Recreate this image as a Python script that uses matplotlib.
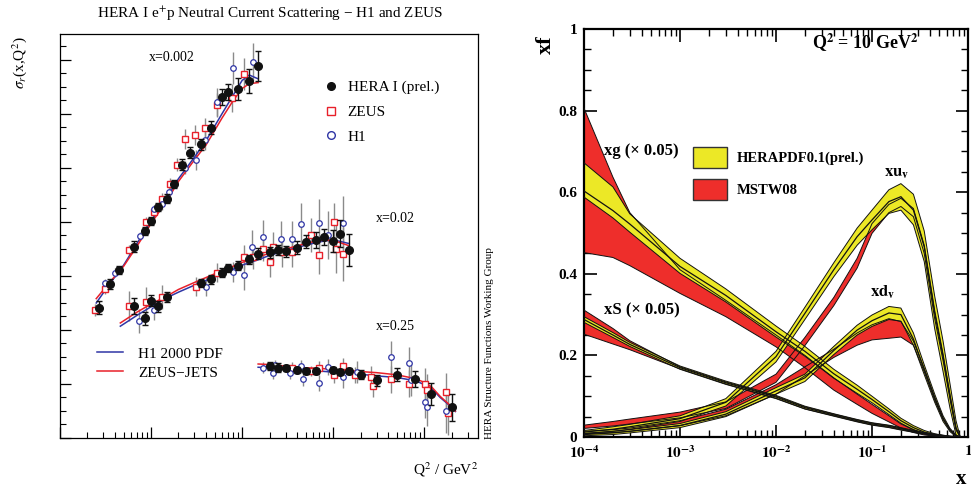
import matplotlib
matplotlib.use('Agg')
import matplotlib.pyplot as plt
from matplotlib.lines import Line2D
from matplotlib.patches import Patch
from matplotlib.ticker import MultipleLocator, LogLocator, NullFormatter, FixedLocator, FixedFormatter

plt.rcParams['font.family'] = ['Liberation Serif', 'DejaVu Serif']
plt.rcParams['mathtext.fontset'] = 'stix'

# ---------------- left panel: reduced cross sections (offset, arb. units) ----------------
# x = 0.002
hera_q2_a = [2.7, 3.5, 4.5, 6.5, 8.5, 10, 12, 15, 18, 22, 27, 35, 45, 60, 70, 90, 120, 150]
hera_y_a = [2.41, 2.85, 3.11, 3.54, 3.83, 4.02, 4.28, 4.43, 4.70, 5.06, 5.28, 5.44, 5.74, 6.31, 6.41, 6.46, 6.61, 6.89]
hera_e_a = [0.12, 0.1, 0.08, 0.1, 0.08, 0.08, 0.08, 0.08, 0.08, 0.1, 0.1, 0.1, 0.12, 0.15, 0.15, 0.2, 0.22, 0.28]
zeus_q2_a = [2.4, 3.1, 5.7, 8.8, 10.8, 13.2, 16.2, 19.3, 23.7, 30.5, 39, 53, 78, 105]
zeus_y_a = [2.37, 2.76, 3.48, 4.0, 4.19, 4.43, 4.70, 5.06, 5.54, 5.61, 5.74, 6.17, 6.30, 6.74]
zeus_e_a = [0.12, 0.1, 0.1, 0.1, 0.1, 0.1, 0.12, 0.12, 0.18, 0.18, 0.18, 0.22, 0.26, 0.3]
h1_q2_a = [3.1, 4.0, 7.6, 10.8, 13.2, 15.8, 23.7, 31, 39, 53, 80, 132]
h1_y_a = [2.87, 3.06, 3.74, 4.24, 4.33, 4.56, 5.0, 5.15, 5.52, 6.22, 6.85, 6.96]
h1_e_a = [0.08, 0.08, 0.08, 0.08, 0.1, 0.1, 0.12, 0.18, 0.18, 0.26, 0.3, 0.35]
fit_q2_a = [2.5, 3.5, 5, 7, 10, 15, 20, 30, 40, 60, 80, 100, 120, 150]
h1fit_a = [2.5, 2.85, 3.2, 3.6, 4.02, 4.45, 4.8, 5.2, 5.5, 6.0, 6.35, 6.62, 6.72, 6.65]
zjfit_a = [2.58, 2.88, 3.18, 3.55, 3.97, 4.4, 4.75, 5.15, 5.42, 5.92, 6.25, 6.47, 6.56, 6.58]

# x = 0.02
hera_q2_b = [6.5, 8.5, 10, 12, 15, 35, 45, 60, 70, 90, 120, 150, 200, 250, 300, 400, 500, 650, 800, 1000, 1200, 1500]
hera_y_b = [2.44, 2.22, 2.54, 2.44, 2.61, 2.87, 2.94, 3.06, 3.15, 3.19, 3.31, 3.41, 3.44, 3.48, 3.46, 3.52, 3.63, 3.67, 3.72, 3.65, 3.78, 3.48]
hera_e_b = [0.15, 0.12, 0.1, 0.1, 0.1, 0.08, 0.08, 0.08, 0.08, 0.08, 0.08, 0.1, 0.1, 0.1, 0.1, 0.12, 0.12, 0.15, 0.15, 0.2, 0.25, 0.3]
zeus_q2_b = [5.7, 8.8, 13.2, 31, 53, 105, 132, 170, 203, 219, 275, 354, 573, 701, 1026, 1080, 1290]
zeus_y_b = [2.44, 2.52, 2.61, 2.80, 3.06, 3.35, 3.35, 3.5, 3.26, 3.54, 3.44, 3.44, 3.76, 3.39, 4.0, 3.5, 3.41]
zeus_e_b = [0.28, 0.28, 0.22, 0.18, 0.18, 0.22, 0.22, 0.22, 0.28, 0.28, 0.28, 0.28, 0.32, 0.36, 0.36, 0.45, 0.5]
h1_q2_b = [7.4, 10.8, 40, 80, 105, 129, 170, 268, 354, 445, 701, 881, 1290]
h1_y_b = [2.17, 2.37, 2.80, 3.07, 3.02, 3.54, 3.72, 3.69, 3.69, 3.96, 3.98, 3.76, 3.98]
h1_e_b = [0.22, 0.18, 0.18, 0.18, 0.28, 0.32, 0.32, 0.32, 0.32, 0.4, 0.45, 0.45, 0.5]
fit_q2_b = [4.6, 7, 10, 15, 20, 30, 50, 70, 100, 150, 200, 300, 500, 700, 1000, 1500]
h1fit_b = [2.07, 2.27, 2.43, 2.6, 2.7, 2.83, 2.98, 3.08, 3.2, 3.3, 3.38, 3.47, 3.57, 3.63, 3.67, 3.6]
zjfit_b = [2.13, 2.33, 2.48, 2.63, 2.75, 2.88, 3.04, 3.14, 3.25, 3.35, 3.42, 3.5, 3.6, 3.66, 3.66, 3.56]

# x = 0.25
hera_q2_c = [200, 250, 300, 400, 500, 650, 1000, 1200, 1500, 2000, 3000, 5000, 8000, 12000, 20000]
hera_y_c = [1.33, 1.30, 1.30, 1.26, 1.24, 1.24, 1.26, 1.22, 1.24, 1.17, 1.07, 1.17, 1.09, 0.81, 0.57]
hera_e_c = [0.08, 0.08, 0.06, 0.06, 0.06, 0.06, 0.06, 0.06, 0.06, 0.08, 0.1, 0.12, 0.15, 0.2, 0.25]
zeus_q2_c = [354, 573, 701, 1026, 1290, 1745, 2620, 2750, 4335, 6840, 10260, 10800, 17500, 18400]
zeus_y_c = [1.30, 1.24, 1.30, 1.17, 1.33, 1.17, 1.13, 0.96, 1.09, 1.0, 1.0, 0.89, 0.85, 0.46]
zeus_e_c = [0.1, 0.1, 0.12, 0.15, 0.15, 0.15, 0.2, 0.2, 0.25, 0.25, 0.3, 0.3, 0.35, 0.4]
h1_q2_c = [170, 219, 231, 337, 445, 468, 701, 881, 1290, 1840, 4335, 6840, 7190, 10260, 10800, 17500]
h1_y_c = [1.30, 1.20, 1.35, 1.20, 1.33, 1.09, 1.02, 1.31, 1.13, 1.22, 1.5, 1.39, 1.07, 0.67, 0.57, 0.50]
h1_e_c = [0.1, 0.1, 0.1, 0.1, 0.12, 0.12, 0.15, 0.15, 0.2, 0.2, 0.3, 0.3, 0.3, 0.3, 0.35, 0.4]
fit_q2_c = [150, 200, 300, 500, 700, 1000, 1500, 2000, 3000, 5000, 8000, 10000, 12000, 15000, 20000, 22000]
h1fit_c = [1.31, 1.3, 1.28, 1.26, 1.24, 1.22, 1.2, 1.18, 1.15, 1.12, 1.06, 0.99, 0.92, 0.75, 0.57, 0.49]
zjfit_c = [1.37, 1.36, 1.33, 1.3, 1.29, 1.27, 1.25, 1.23, 1.21, 1.17, 1.1, 1.03, 0.95, 0.77, 0.58, 0.5]

bin_labels = ['x=0.002', 'x=0.02', 'x=0.25']

# ---------------- right panel: PDFs at Q2 = 10 GeV2 ----------------
xgrid = [1e-4, 2e-4, 3e-4, 1e-3, 3e-3, 0.01, 0.02, 0.04, 0.07, 0.1, 0.15, 0.2, 0.27, 0.35, 0.45, 0.55, 0.65, 0.75, 0.83]

# xg (x 0.05)
hera_xg_hi = [.672, .613, .547, .438, .363, .272, .222, .166, .127, .100, .069, .046, .028, .016, .008, .004, .002, .001, 0]
hera_xg_mid = [.603, .555, .522, .418, .347, .258, .210, .155, .117, .092, .062, .040, .023, .012, .006, .003, .001, .0005, 0]
hera_xg_lo = [.588, .537, .502, .401, .331, .245, .198, .144, .107, .084, .055, .034, .018, .008, .004, .002, .0005, 0, 0]
mstw_xg_hi = [.806, .637, .550, .410, .335, .250, .200, .145, .105, .080, .052, .032, .018, .009, .004, .002, .001, 0, 0]
mstw_xg_lo = [.452, .440, .420, .352, .295, .221, .170, .115, .080, .058, .037, .022, .011, .005, .002, .001, 0, 0, 0]

# xS (x 0.05)
hera_xs_hi = [.295, .256, .232, .174, .137, .102, .0755, .057, .043, .035, .029, .023, .0165, .011, .007, .0045, .002, .001, 0]
hera_xs_mid = [.288, .250, .227, .170, .133, .098, .072, .054, .040, .032, .026, .020, .014, .009, .005, .003, .001, .0005, 0]
hera_xs_lo = [.281, .244, .222, .166, .129, .094, .0685, .051, .037, .029, .023, .017, .0115, .007, .003, .0015, 0, 0, 0]
mstw_xs_hi = [.311, .266, .236, .172, .135, .100, .074, .056, .042, .034, .028, .022, .015, .010, .006, .0035, .0015, .0005, 0]
mstw_xs_lo = [.252, .228, .214, .167, .130, .095, .069, .052, .038, .030, .024, .018, .012, .008, .004, .002, .0005, 0, 0]

# xu_v
hera_uv_hi = [.016, .025, .031, .052, .094, .210, .318, .427, .512, .556, .606, .621, .595, .505, .345, .235, .130, .040, 0]
hera_uv_mid = [.012, .019, .025, .045, .085, .197, .303, .410, .491, .532, .577, .589, .556, .466, .303, .197, .099, .021, 0]
hera_uv_lo = [.008, .014, .019, .038, .076, .184, .288, .393, .470, .508, .548, .556, .520, .430, .265, .160, .070, .005, 0]
mstw_uv_hi = [.029, .038, .044, .061, .086, .154, .244, .342, .438, .523, .570, .585, .560, .470, .310, .203, .104, .023, 0]
mstw_uv_lo = [.021, .027, .032, .047, .070, .134, .224, .322, .414, .499, .550, .565, .540, .450, .290, .187, .092, .017, 0]

# xd_v
hera_dv_hi = [.009, .014, .018, .033, .062, .121, .154, .222, .274, .299, .320, .316, .255, .177, .105, .052, .021, .005, 0]
hera_dv_mid = [.006, .010, .014, .028, .056, .113, .145, .212, .262, .285, .304, .300, .240, .165, .095, .045, .017, .003, 0]
hera_dv_lo = [.003, .006, .010, .023, .050, .105, .136, .202, .250, .271, .288, .284, .225, .153, .085, .038, .013, .001, 0]
mstw_dv_hi = [.014, .018, .022, .040, .068, .128, .172, .215, .255, .275, .290, .283, .235, .168, .098, .047, .018, .003, 0]
mstw_dv_lo = [.008, .011, .014, .028, .052, .105, .150, .195, .225, .238, .242, .245, .225, .160, .090, .043, .016, .003, 0]

yellow = '#ece826'
red = '#ee2e2b'

fig = plt.figure(figsize=(9.71, 4.88), dpi=100)

# ================= left panel =================
ax = fig.add_axes([60 / 971, 1 - 438 / 488, 418 / 971, 404 / 488])
ax.set_xscale('log')

zeus_c = '#e8202a'
h1_c = '#2f35a5'
bins = [
    (hera_q2_a, hera_y_a, hera_e_a, zeus_q2_a, zeus_y_a, zeus_e_a, h1_q2_a, h1_y_a, h1_e_a, fit_q2_a, h1fit_a, zjfit_a),
    (hera_q2_b, hera_y_b, hera_e_b, zeus_q2_b, zeus_y_b, zeus_e_b, h1_q2_b, h1_y_b, h1_e_b, fit_q2_b, h1fit_b, zjfit_b),
    (hera_q2_c, hera_y_c, hera_e_c, zeus_q2_c, zeus_y_c, zeus_e_c, h1_q2_c, h1_y_c, h1_e_c, fit_q2_c, h1fit_c, zjfit_c),
]
for (hq, hy, he, zq, zy, ze, bq, by, be, fq, fb, fz) in bins:
    ax.errorbar(zq, zy, yerr=ze, fmt='none', ecolor='#8a8a8a', elinewidth=1.0, zorder=2)
    ax.errorbar(bq, by, yerr=be, fmt='none', ecolor='#8a8a8a', elinewidth=1.0, zorder=2)
    ax.plot(fq, fb, color=h1_c, lw=1.1, zorder=3)
    ax.plot(fq, fz, color=zeus_c, lw=1.1, zorder=3)
    ax.plot(zq, zy, 's', mfc='white', mec=zeus_c, ms=4.2, mew=1.0, zorder=4)
    ax.plot(bq, by, 'o', mfc='white', mec=h1_c, ms=4.0, mew=0.9, zorder=4)
    ax.errorbar(hq, hy, yerr=he, fmt='o', color='#111111', ms=5.5, elinewidth=1.0,
                capsize=2.5, capthick=1.0, zorder=5)

ax.set_xlim(1, 3.9e4)
ax.set_ylim(0, 7.48)
ax.yaxis.set_major_locator(MultipleLocator(1))
ax.yaxis.set_minor_locator(MultipleLocator(0.25))
ax.xaxis.set_major_locator(LogLocator(base=10, numticks=10))
ax.xaxis.set_minor_locator(LogLocator(base=10, subs=range(2, 10), numticks=20))
ax.xaxis.set_major_formatter(NullFormatter())
ax.xaxis.set_minor_formatter(NullFormatter())
ax.yaxis.set_major_formatter(NullFormatter())
ax.tick_params(which='both', direction='in', top=False, right=False)
ax.tick_params(which='major', length=8, width=0.9)
ax.tick_params(which='minor', length=4, width=0.8)
for s in ax.spines.values():
    s.set_linewidth(0.9)

ax.text(17, 7.05, bin_labels[0], fontsize=10, ha='center', va='center')
ax.text(4800, 4.07, bin_labels[1], fontsize=10, ha='center', va='center')
ax.text(4800, 2.07, bin_labels[2], fontsize=10, ha='center', va='center')

mk_handles = [
    Line2D([], [], marker='o', ls='none', color='#111111', ms=5.5),
    Line2D([], [], marker='s', ls='none', mfc='white', mec=zeus_c, ms=5.5, mew=1.0),
    Line2D([], [], marker='o', ls='none', mfc='white', mec=h1_c, ms=5.5, mew=1.0),
]
leg1 = ax.legend(mk_handles, ['HERA I (prel.)', 'ZEUS', 'H1'], loc='upper left',
                 bbox_to_anchor=(0.630, 0.885), frameon=False, fontsize=11,
                 handlelength=1.0, handletextpad=0.6, labelspacing=0.72,
                 borderpad=0, borderaxespad=0)
ax.add_artist(leg1)
ln_handles = [Line2D([], [], color=h1_c, lw=1.1), Line2D([], [], color=zeus_c, lw=1.1)]
ax.legend(ln_handles, ['H1 2000 PDF', 'ZEUS\u2212JETS'], loc='upper left',
          bbox_to_anchor=(0.0885, 0.225), frameon=False, fontsize=11,
          handlelength=1.7, handletextpad=0.98, labelspacing=0.35,
          borderpad=0, borderaxespad=0)

fig.text(270 / 971, 1 - 14 / 488, 'HERA I e$^{+}$p Neutral Current Scattering \u2212 H1 and ZEUS',
         ha='center', va='center', fontsize=11)
fig.text(20 / 971, 1 - 63 / 488, r'$\sigma_r$(x,Q$^2$)', rotation=90, ha='center', va='center', fontsize=11)
fig.text(478 / 971, 1 - 470 / 488, 'Q$^2$ / GeV$^2$', ha='right', va='center', fontsize=11)
fig.text(489 / 971, 1 - 343 / 488, 'HERA Structure Functions Working Group', rotation=90,
         ha='center', va='center', fontsize=8)

# ================= right panel =================
bx = fig.add_axes([584 / 971, 1 - 437 / 488, 384 / 971, 408 / 488])
bx.set_xscale('log')


def band(lo, hi, color, mid=None):
    bx.fill_between(xgrid, lo, hi, facecolor=color, edgecolor='none', zorder=2)
    bx.plot(xgrid, lo, color='#111111', lw=0.7, zorder=3)
    bx.plot(xgrid, hi, color='#111111', lw=0.7, zorder=3)
    if mid is not None:
        bx.plot(xgrid, mid, color='#111111', lw=0.9, zorder=3)


band(mstw_xg_lo, mstw_xg_hi, red)
band(mstw_xs_lo, mstw_xs_hi, red)
band(mstw_uv_lo, mstw_uv_hi, red)
band(mstw_dv_lo, mstw_dv_hi, red)
band(hera_xg_lo, hera_xg_hi, yellow, hera_xg_mid)
band(hera_xs_lo, hera_xs_hi, yellow, hera_xs_mid)
band(hera_uv_lo, hera_uv_hi, yellow, hera_uv_mid)
band(hera_dv_lo, hera_dv_hi, yellow, hera_dv_mid)

bx.set_xlim(1e-4, 1)
bx.set_ylim(0, 1)
bx.xaxis.set_major_locator(FixedLocator([1e-4, 1e-3, 1e-2, 1e-1, 1]))
bx.xaxis.set_major_formatter(FixedFormatter([r'$\mathbf{10^{-4}}$', r'$\mathbf{10^{-3}}$',
                                             r'$\mathbf{10^{-2}}$', r'$\mathbf{10^{-1}}$', r'$\mathbf{1}$']))
bx.xaxis.set_minor_locator(LogLocator(base=10, subs=range(2, 10), numticks=20))
bx.xaxis.set_minor_formatter(NullFormatter())
bx.yaxis.set_major_locator(FixedLocator([0, 0.2, 0.4, 0.6, 0.8, 1.0]))
bx.yaxis.set_major_formatter(FixedFormatter(['0', '0.2', '0.4', '0.6', '0.8', '1']))
bx.yaxis.set_minor_locator(MultipleLocator(0.05))
for lab in bx.get_yticklabels():
    lab.set_fontweight('bold')
bx.tick_params(which='both', direction='in', top=True, right=True)
bx.tick_params(which='major', length=9, width=1.2, labelsize=11, pad=5)
bx.tick_params(which='minor', length=5, width=1.0)
for s in bx.spines.values():
    s.set_linewidth(1.6)

bx.text(1.6e-4, 0.70, 'xg (\u00d7 0.05)', fontsize=12, fontweight='bold', ha='left', va='center')
bx.text(1.6e-4, 0.31, 'xS (\u00d7 0.05)', fontsize=12, fontweight='bold', ha='left', va='center')
bx.text(0.18, 0.648, r'$\mathbf{xu_v}$', fontsize=12, ha='center', va='center')
bx.text(0.13, 0.355, r'$\mathbf{xd_v}$', fontsize=12, ha='center', va='center')
bx.text(0.085, 0.965, r'Q$^{\mathbf{2}}$ = 10 GeV$^{\mathbf{2}}$', fontsize=13, fontweight='bold',
        ha='center', va='center')

bx.legend([Patch(facecolor=yellow, edgecolor='#333333', lw=1.0),
           Patch(facecolor=red, edgecolor='#333333', lw=1.0)],
          ['HERAPDF0.1(prel.)', 'MSTW08'], loc='upper left', bbox_to_anchor=(0.284, 0.711),
          frameon=False, prop={'weight': 'bold', 'size': 10.5}, handlelength=2.33,
          handleheight=1.85, handletextpad=0.68, labelspacing=0.75, borderpad=0, borderaxespad=0)

fig.text(546 / 971, 1 - 45 / 488, 'xf', rotation=90, fontsize=16, fontweight='bold', ha='center', va='center')
fig.text(966 / 971, 1 - 479 / 488, 'x', fontsize=15, fontweight='bold', ha='right', va='center')

fig.savefig('out.png', dpi=100)
